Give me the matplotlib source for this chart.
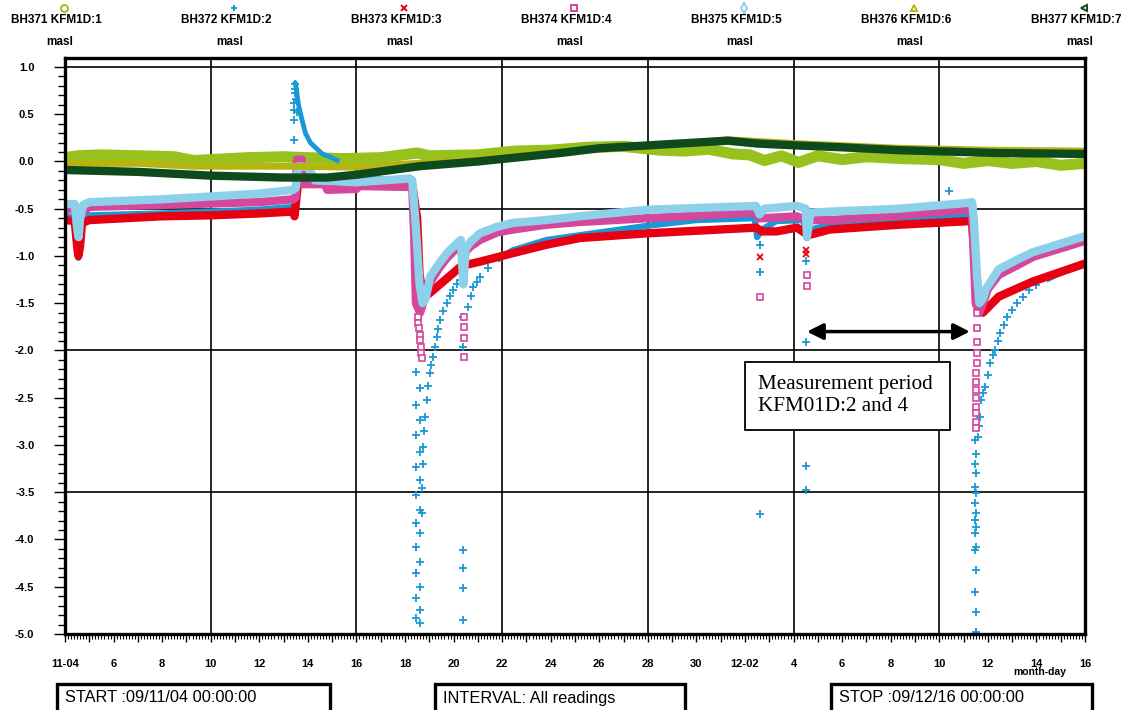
import matplotlib
matplotlib.use("Agg")
import matplotlib.pyplot as plt
from matplotlib.lines import Line2D
from matplotlib.patches import Rectangle
from matplotlib.ticker import MultipleLocator, FixedLocator, FixedFormatter

plt.rcParams['font.family'] = ['Liberation Sans', 'DejaVu Sans']
plt.rcParams['axes.unicode_minus'] = False

# ---- time axis: days since 2009-11-04 00:00 ----
tick_days = list(range(0, 43, 2))
tick_labels = ['11-04', '6', '8', '10', '12', '14', '16', '18', '20', '22', '24',
               '26', '28', '30', '12-02', '4', '6', '8', '10', '12', '14', '16']
grid_days = [6, 12, 18, 24, 30, 36]
grid_levels = [1.0, -0.5, -2.0, -3.5]

series_names = ['BH371 KFM1D:1', 'BH372 KFM1D:2', 'BH373 KFM1D:3', 'BH374 KFM1D:4',
                'BH375 KFM1D:5', 'BH376 KFM1D:6', 'BH377 KFM1D:7']
series_colors = ['#97c21e', '#1a98d5', '#e60012', '#d4479a', '#8dd0ea', '#b5b512', '#0f4a1c']
series_markers = ['o', '+', 'x', 's', 'd', '^', '<']

# ---- BH371 KFM1D:1 ----
s1_days = [0, 0.5, 1.5, 3, 4.5, 5.3, 6, 7.5, 9, 10, 11.5, 13, 14.5, 15, 17, 18.5, 20,
           21.5, 23, 24.5, 25.5, 26.5, 27.5, 28.2, 28.8, 29.5, 30.2, 31, 32, 33, 34.5,
           36, 37, 38, 39, 40, 41, 42]
s1_vals = [0.04, 0.06, 0.07, 0.06, 0.05, 0.01, 0.02, 0.04, 0.05, 0.04, 0.03, 0.04, 0.09,
           0.06, 0.07, 0.11, 0.12, 0.15, 0.16, 0.12, 0.11, 0.13, 0.08, 0.07, 0.01, 0.06,
           -0.01, 0.06, 0.02, 0.05, 0.03, 0.02, -0.02, 0.01, -0.02, 0.0, -0.04, -0.02]

# ---- BH372 KFM1D:2 (continuous parts) ----
s2_a_days = [0, 0.4, 0.55, 0.65, 1, 4, 8, 9.4]
s2_a_vals = [-0.57, -0.6, -1.02, -0.7, -0.57, -0.55, -0.51, -0.48]
s2_spike_days = [9.46, 9.52, 9.6, 9.7, 9.8, 9.9, 10.1, 10.3, 10.6, 10.9, 11.3]
s2_spike_vals = [0.85, 0.78, 0.62, 0.5, 0.4, 0.3, 0.2, 0.15, 0.08, 0.05, 0.0]
s2_b_days = [11.35, 14.3]
s2_b_vals = [-0.19, -0.19]
s2_c_days = [17.79, 18.44, 19.84, 21.2, 24, 26, 28.4, 28.5, 28.7, 29.3, 30.4, 30.55,
             30.7, 31.5, 34.3, 37.34]
s2_c_vals = [-1.04, -0.94, -0.83, -0.78, -0.68, -0.62, -0.60, -0.80, -0.72, -0.63,
             -0.62, -0.81, -0.72, -0.67, -0.63, -0.58]
s2_d_days = [40.4, 41.2, 42]
s2_d_vals = [-1.25, -1.15, -1.07]
# recovery branches (individual readings)
s2_rec_days = [14.70, 14.72, 14.74, 14.76, 14.8, 14.84, 14.9, 14.96, 15.03, 15.09, 15.15,
               15.23, 15.31, 15.37, 15.44, 15.56, 15.73, 15.85, 15.97, 16.14, 16.26,
               16.59, 16.7, 16.8, 16.95, 17.09, 17.4,
               37.59, 37.63, 37.67, 37.71, 37.8, 37.88, 38.0, 38.1, 38.2, 38.3, 38.4,
               38.5, 38.65, 38.8, 39.0, 39.2, 39.45, 39.7, 40.0]
s2_rec_vals = [-3.72, -3.45, -3.2, -3.02, -2.85, -2.7, -2.52, -2.38, -2.24, -2.15, -2.07,
               -1.96, -1.86, -1.77, -1.68, -1.58, -1.50, -1.42, -1.36, -1.30, -1.25,
               -1.54, -1.42, -1.33, -1.27, -1.22, -1.13,
               -2.92, -2.8, -2.70, -2.52, -2.45, -2.39, -2.26, -2.13, -2.05, -1.99, -1.9,
               -1.81, -1.73, -1.65, -1.57, -1.50, -1.43, -1.36, -1.31]
# isolated readings during pumping stops/starts
s2_pts_days = [9.42, 9.42, 9.44, 9.44, 9.46, 9.46, 9.46, 9.5, 9.55,
               14.45, 14.6, 14.45, 14.6, 14.45, 14.6, 14.45, 14.6, 14.45, 14.6, 14.45,
               14.6, 14.45, 14.6, 14.45, 14.6, 14.45, 14.6, 14.45, 14.62, 14.45,
               16.39, 16.39, 16.39, 16.39, 16.39, 16.39,
               28.6, 28.6, 28.6, 30.5, 30.5, 30.5, 30.5, 36.4,
               37.45, 37.5, 37.45, 37.5, 37.45, 37.5, 37.45, 37.5, 37.45, 37.5, 37.45,
               37.5, 37.45, 37.5, 37.45, 37.5, 37.5]
s2_pts_vals = [0.44, 0.23, 0.62, 0.55, 0.82, 0.77, 0.72, 0.66, 0.52,
               -2.23, -2.40, -2.58, -2.74, -2.89, -3.07, -3.23, -3.37, -3.53, -3.69, -3.83,
               -3.93, -4.08, -4.24, -4.35, -4.50, -4.62, -4.75, -4.83, -4.88, -1.45,
               -1.65, -1.96, -4.11, -4.30, -4.51, -4.85,
               -0.88, -1.17, -3.73, -1.05, -1.91, -3.22, -3.48, -0.31,
               -2.95, -3.1, -3.2, -3.30, -3.44, -3.51, -3.61, -3.72, -3.79, -3.87, -3.93,
               -4.08, -4.11, -4.32, -4.56, -4.77, -4.98]

# ---- BH373 KFM1D:3 ----
s3_days = [0, 0.4, 0.5, 0.55, 0.62, 0.7, 1, 4, 6, 8, 9.4, 9.45, 9.6, 10.8, 11, 14.3,
           14.5, 14.6, 14.75, 14.82, 15.03, 16.26, 16.4, 17.09, 18.44, 19.84, 21.2, 24,
           28.45, 28.7, 29.3, 30.14, 30.6, 31.5, 34.3, 37.34, 37.42, 37.6, 37.79, 38.45,
           39.85, 42]
s3_vals = [-0.62, -0.63, -0.9, -1.0, -0.9, -0.65, -0.62, -0.58, -0.57, -0.55, -0.53,
           -0.58, -0.22, -0.23, -0.24, -0.25, -0.6, -1.2, -1.42, -1.43, -1.39, -1.12,
           -1.1, -1.06, -0.97, -0.88, -0.81, -0.76, -0.70, -0.74, -0.74, -0.70, -0.78,
           -0.72, -0.67, -0.63, -0.9, -1.4, -1.60, -1.43, -1.27, -1.08]
s3_pts_days = [28.6, 30.5, 30.5]
s3_pts_vals = [-1.01, -0.94, -0.98]

# ---- BH374 KFM1D:4 ----
s4_days = [0, 0.4, 0.55, 0.65, 1, 4, 8, 9.4, 9.5, 9.55, 9.75, 9.8, 10.7, 10.8, 12, 12.1,
           14.3, 14.38, 14.45, 14.62, 14.8, 15.03, 15.4, 15.73, 16.0, 16.3, 16.39, 16.5,
           16.7, 17.09, 17.8, 18.44, 19.8, 21.2, 24, 28.45, 28.55, 28.75, 30.14, 30.5,
           30.7, 31.5, 34.3, 37.1, 37.35, 37.42, 37.5, 37.65, 37.8, 38.0, 38.45, 39.2,
           39.85, 42]
s4_vals = [-0.50, -0.5, -0.8, -0.55, -0.48, -0.46, -0.43, -0.40, -0.38, 0.02, 0.02,
           -0.24, -0.24, -0.3, -0.29, -0.26, -0.27, -0.8, -1.5, -1.6, -1.45, -1.28, -1.13,
           -1.02, -0.95, -0.88, -1.1, -0.95, -0.9, -0.83, -0.75, -0.72, -0.67, -0.64,
           -0.60, -0.54, -0.6, -0.6, -0.58, -0.62, -0.62, -0.62, -0.57, -0.51, -0.50,
           -1.0, -1.5, -1.6, -1.5, -1.35, -1.2, -1.1, -1.01, -0.84]
s4_pts_days = [14.53, 14.55, 14.57, 14.6, 14.62, 14.64, 14.66, 14.68,
               16.43, 16.43, 16.43, 16.43, 16.43, 16.43,
               28.6, 30.55, 30.55,
               37.55, 37.55, 37.55, 37.55, 37.55, 37.5, 37.5, 37.5, 37.5, 37.5, 37.5,
               37.5, 37.5]
s4_pts_vals = [-1.65, -1.71, -1.76, -1.84, -1.89, -1.96, -2.03, -2.08,
               -0.98, -1.04, -1.65, -1.75, -1.87, -2.07,
               -1.43, -1.20, -1.32,
               -1.60, -1.76, -1.91, -2.03, -2.13, -2.24, -2.33, -2.42, -2.50, -2.60,
               -2.66, -2.76, -2.82]

# ---- BH375 KFM1D:5 ----
s5_days = [0, 0.4, 0.5, 0.56, 0.62, 0.75, 1, 4, 8, 9.4, 9.5, 9.6, 10.0, 10.3, 12, 14.2,
           14.3, 14.45, 14.6, 14.72, 14.85, 15.03, 15.4, 15.73, 16.0, 16.3, 16.4, 16.5,
           16.7, 17.09, 17.8, 18.44, 19.8, 21.2, 24, 28.45, 28.6, 28.8, 30.14, 30.5,
           30.55, 30.7, 34.3, 37.1, 37.35, 37.42, 37.55, 37.65, 37.8, 37.92, 38.45, 39.2,
           39.85, 42]
s5_vals = [-0.45, -0.45, -0.7, -0.8, -0.6, -0.46, -0.43, -0.40, -0.34, -0.30, -0.28,
           -0.05, -0.06, -0.2, -0.22, -0.18, -0.2, -0.7, -1.3, -1.5, -1.45, -1.22, -1.08,
           -0.97, -0.9, -0.83, -1.3, -0.92, -0.85, -0.76, -0.69, -0.65, -0.62, -0.58,
           -0.51, -0.47, -0.56, -0.5, -0.47, -0.5, -0.8, -0.54, -0.5, -0.44, -0.43, -0.6,
           -1.2, -1.5, -1.45, -1.35, -1.14, -1.04, -0.96, -0.79]

# ---- BH376 KFM1D:6 ----
s6_days = [0, 3, 5.3, 9, 12, 14.5, 17, 20, 24, 27.3, 30, 34.3, 38, 42]
s6_vals = [-0.02, -0.02, -0.05, -0.05, -0.06, -0.02, 0.02, 0.1, 0.16, 0.23, 0.19, 0.14,
           0.12, 0.11]

# ---- BH377 KFM1D:7 ----
s7_days = [0, 3, 6, 9, 10.8, 12, 14.6, 17, 20.4, 22, 25.3, 27.3, 28.5, 30.1, 32, 34.3,
           38.4, 42]
s7_vals = [-0.09, -0.11, -0.15, -0.17, -0.17, -0.14, -0.05, 0.0, 0.09, 0.14, 0.19, 0.22,
           0.19, 0.17, 0.15, 0.12, 0.09, 0.08]

fig = plt.figure(figsize=(11.32, 7.10), dpi=100)
ax = fig.add_axes([65 / 1132, 1 - 634 / 710, 1020 / 1132, 576 / 710])
ax.set_xlim(0, 42)
ax.set_ylim(-5.0, 1.095)

band = dict(solid_capstyle='butt', solid_joinstyle='round')
c1, c2, c3, c4, c5, c6, c7 = series_colors

ax.plot(s1_days, s1_vals, color=c1, lw=8, zorder=2, **band)

ax.plot(s2_a_days, s2_a_vals, color=c2, lw=4.5, zorder=2.1, **band)
ax.plot(s2_spike_days, s2_spike_vals, color=c2, lw=3.5, zorder=2.1, **band)
ax.plot(s2_b_days, s2_b_vals, color=c2, lw=4, zorder=2.1, **band)
ax.plot(s2_c_days, s2_c_vals, color=c2, lw=4.5, zorder=2.1, **band)
ax.plot(s2_d_days, s2_d_vals, color=c2, lw=4.5, zorder=2.1, **band)
ax.plot(s2_rec_days, s2_rec_vals, ls='none', marker='+', ms=6, mew=1.3, color=c2, zorder=2.1)
ax.plot(s2_pts_days, s2_pts_vals, ls='none', marker='+', ms=6, mew=1.3, color=c2, zorder=2.1)

ax.plot(s3_days, s3_vals, color=c3, lw=6, zorder=2.2, **band)
ax.plot(s3_pts_days, s3_pts_vals, ls='none', marker='x', ms=4, mew=1.3, color=c3, zorder=2.2)

ax.plot(s4_days, s4_vals, color=c4, lw=6, zorder=2.3, **band)
ax.plot(s4_pts_days, s4_pts_vals, ls='none', marker='s', ms=5, mew=1.2,
        mfc='white', mec=c4, zorder=2.3)

ax.plot(s5_days, s5_vals, color=c5, lw=6, zorder=2.4, **band)
ax.plot(s6_days, s6_vals, color=c6, lw=5, zorder=2.5, **band)
ax.plot(s7_days, s7_vals, color=c7, lw=6, zorder=2.6, **band)

# grid
for d in grid_days:
    ax.axvline(d, color='black', lw=1.2, zorder=1)
for v in grid_levels:
    ax.axhline(v, color='black', lw=1.2, zorder=1)

for sp in ax.spines.values():
    sp.set_linewidth(2.4)
    sp.set_zorder(5)

ax.yaxis.set_major_locator(MultipleLocator(0.5))
ax.yaxis.set_minor_locator(MultipleLocator(0.1))
ax.yaxis.set_major_formatter(plt.FuncFormatter(lambda v, p: f"{v:.1f}"))
ax.tick_params(axis='y', which='major', direction='out', length=8, width=1, pad=14,
               labelsize=8)
ax.tick_params(axis='y', which='minor', direction='out', length=5, width=1)
for t in ax.get_yticklabels():
    t.set_fontweight('bold')

major_days = list(range(0, 43))
major_labels = [tick_labels[d // 2] if d % 2 == 0 else '' for d in major_days]
ax.xaxis.set_major_locator(FixedLocator(major_days))
ax.xaxis.set_major_formatter(FixedFormatter(major_labels))
ax.xaxis.set_minor_locator(MultipleLocator(0.125))
ax.tick_params(axis='x', which='major', direction='out', length=6, width=1, pad=12,
               labelsize=8)
ax.tick_params(axis='x', which='minor', direction='out', length=3.5, width=0.8)
for t in ax.get_xticklabels():
    t.set_fontweight('bold')
ax.text(1040 / 1132, 1 - 672 / 710, 'month-day', transform=fig.transFigure,
        ha='center', va='center', fontsize=7.5, fontweight='bold')

# legend row above the plot
for i, (name, col, mk) in enumerate(zip(series_names, series_colors, series_markers)):
    cx = (56 + 170 * i) / 1132
    fig.text(cx, 1 - 20 / 710, name, ha='center', va='center', fontsize=8.5,
             fontweight='bold')
    fig.text(cx + 4 / 1132, 1 - 42 / 710, 'masl', ha='center', va='center', fontsize=8.5,
             fontweight='bold')
    kw = dict(mfc='none', mec=col, mew=1.4) if mk not in ('+', 'x') else dict(color=col, mew=1.4)
    fig.add_artist(Line2D([cx + 8 / 1132], [1 - 8 / 710], transform=fig.transFigure,
                          marker=mk, ms=5, ls='none', **kw))

# measurement period annotation
ax.annotate('', xy=(30.55, -1.80), xytext=(37.26, -1.80),
            arrowprops=dict(arrowstyle='<|-|>', color='black', lw=2.5,
                            mutation_scale=24, shrinkA=0, shrinkB=0), zorder=6)
ax.add_patch(Rectangle((27.99, -2.84), 8.44, 0.72, facecolor='white', edgecolor='black',
                       lw=1.3, zorder=6))
ax.text(28.53, -2.48, 'Measurement period\nKFM01D:2 and 4', ha='left', va='center',
        fontsize=15.2, family='Liberation Serif', linespacing=1.2, zorder=7)

# status boxes below the plot
boxes = [(57, 330, 'START :09/11/04 00:00:00'),
         (435, 685, 'INTERVAL: All readings'),
         (831, 1092, 'STOP :09/12/16 00:00:00')]
for x0, x1, label in boxes:
    fig.add_artist(Rectangle((x0 / 1132, -0.02), (x1 - x0) / 1132, 0.02 + (710 - 684) / 710,
                             transform=fig.transFigure, facecolor='white',
                             edgecolor='black', lw=2.4))
    fig.text((x0 + 8) / 1132, 1 - 698 / 710, label, ha='left', va='center', fontsize=11.8)

fig.savefig('out.png', dpi=100)
